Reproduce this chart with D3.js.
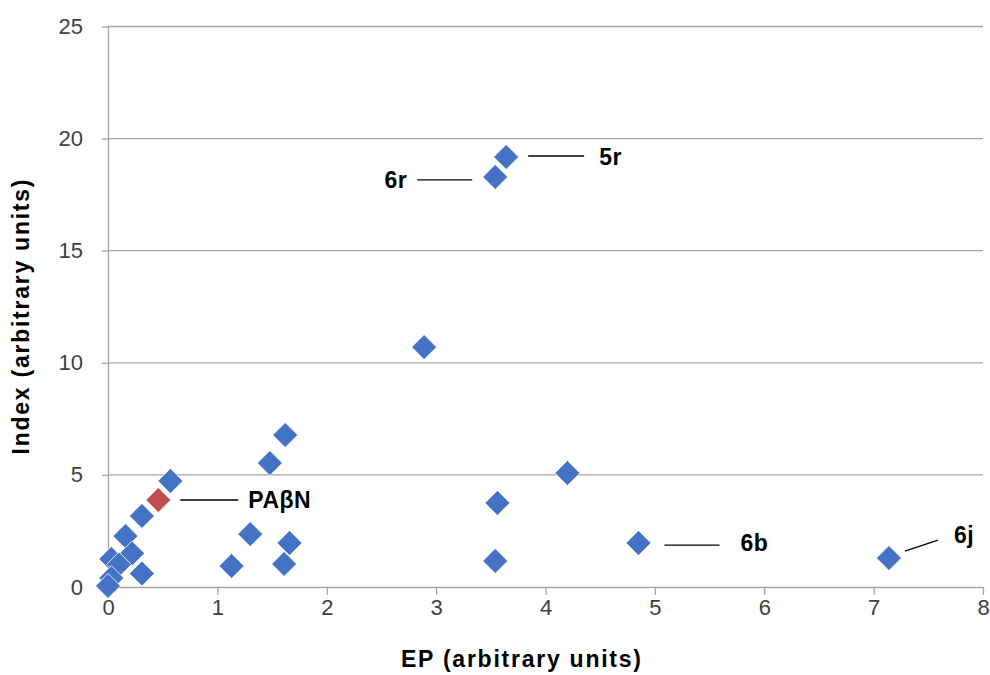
<!DOCTYPE html>
<html>
<head>
<meta charset="utf-8">
<script src="https://cdn.jsdelivr.net/npm/d3@7"></script>
<style>
  body { margin: 0; background: #fff; }
  svg text { font-family: "Liberation Sans", Arial, sans-serif; }
</style>
</head>
<body>
<div id="chart"></div>
<script>
// EP values (x) and Index values (y)
var epValues    = [3.64, 3.54, 2.89, 1.62, 1.48, 0.57, 0.31, 0.16, 1.30, 1.66, 1.61, 1.13, 4.20, 3.56, 3.54, 4.85, 7.14,
                   0.22, 0.03, 0.10, 0.31, 0.03, 0.00];
var indexValues = [19.18, 18.29, 10.70, 6.78, 5.53, 4.73, 3.17, 2.27, 2.36, 1.96, 1.03, 0.94, 5.08, 3.75, 1.16, 1.96, 1.29,
                   1.50, 1.25, 1.00, 0.60, 0.40, 0.05];
// reference compound
var refName = ['PAβN'];
var refEP = [0.46];
var refIndex = [3.88];

// labelled compounds (index into the arrays above)
var labelNames = ['5r', '6r', '6b', '6j'];
var labelPoints = [0, 1, 15, 16];

var xTicks = [0, 1, 2, 3, 4, 5, 6, 7, 8];
var yTicks = [0, 5, 10, 15, 20, 25];

var width = 990, height = 675;
var margin = {left: 108, right: 7, top: 26.5, bottom: 88};

var svg = d3.select('#chart').append('svg')
    .attr('width', width)
    .attr('height', height);

var x = d3.scaleLinear().domain([0, 8]).range([margin.left, width - margin.right]);
var y = d3.scaleLinear().domain([0, 25]).range([height - margin.bottom, margin.top]);

// horizontal gridlines
svg.append('g').selectAll('line')
    .data(yTicks.filter(function (d) { return d > 0; }))
    .join('line')
    .attr('x1', x(0)).attr('x2', x(8))
    .attr('y1', function (d) { return y(d); })
    .attr('y2', function (d) { return y(d); })
    .attr('stroke', '#a6a6a6')
    .attr('stroke-width', 1.3);

// axes
var xAxis = svg.append('g')
    .attr('transform', 'translate(0,' + y(0) + ')')
    .call(d3.axisBottom(x).tickValues(xTicks).tickSize(8).tickSizeOuter(0).tickPadding(4));
var yAxis = svg.append('g')
    .attr('transform', 'translate(' + x(0) + ',0)')
    .call(d3.axisLeft(y).tickValues(yTicks).tickSize(6).tickSizeOuter(0).tickPadding(19));

[xAxis, yAxis].forEach(function (ax) {
    ax.select('.domain').attr('stroke', '#a6a6a6').attr('stroke-width', 1.3);
    ax.selectAll('.tick line').attr('stroke', '#a6a6a6').attr('stroke-width', 1.3);
    ax.selectAll('.tick text')
        .attr('fill', '#404040')
        .style('font-size', '22px')
        .style('font-family', '"Liberation Sans", Arial, sans-serif');
});

// axis titles
svg.append('text')
    .attr('x', 521)
    .attr('y', 667)
    .attr('text-anchor', 'middle')
    .attr('textLength', 240)
    .attr('lengthAdjust', 'spacing')
    .style('font-size', '23px')
    .style('font-weight', 'bold')
    .text('EP (arbitrary units)');

svg.append('text')
    .attr('transform', 'translate(29,317) rotate(-90)')
    .attr('text-anchor', 'middle')
    .attr('textLength', 275)
    .attr('lengthAdjust', 'spacing')
    .style('font-size', '23px')
    .style('font-weight', 'bold')
    .text('Index (arbitrary units)');

// diamond marker
var half = 12.5;
function diamond(cx, cy) {
    return 'M' + cx + ',' + (cy - half) + 'L' + (cx + half) + ',' + cy +
           'L' + cx + ',' + (cy + half) + 'L' + (cx - half) + ',' + cy + 'Z';
}

var pts = epValues.map(function (d, i) { return {x: d, y: indexValues[i]}; });

svg.append('g').selectAll('path')
    .data(pts)
    .join('path')
    .attr('d', function (d) { return diamond(x(d.x), y(d.y)); })
    .attr('fill', '#4472c4')
    .attr('stroke', '#ffffff')
    .attr('stroke-width', 0.8);

svg.append('g').selectAll('path')
    .data(refEP.map(function (d, i) { return {x: d, y: refIndex[i]}; }))
    .join('path')
    .attr('d', function (d) { return diamond(x(d.x), y(d.y)); })
    .attr('fill', '#c0504d')
    .attr('stroke', '#ffffff')
    .attr('stroke-width', 0.8);

// label layout: leader line start/end and text offset relative to the point (pixels)
var labelLayout = {
    '5r':   {l: [22, -1, 78, -1], t: [93, 8], anchor: 'start'},
    '6r':   {l: [-23, 3, -78, 3], t: [-88, 11], anchor: 'end'},
    '6b':   {l: [26, 2, 81, 2], t: [102, 8], anchor: 'start'},
    '6j':   {l: [16, -7, 49, -18], t: [65, -15], anchor: 'start'},
    'PAβN': {l: [22, 0, 80, 0], t: [90, 8], anchor: 'start'}
};

var labels = labelNames.map(function (n, i) {
    return {name: n, x: epValues[labelPoints[i]], y: indexValues[labelPoints[i]]};
}).concat(refName.map(function (n, i) { return {name: n, x: refEP[i], y: refIndex[i]}; }));

var lg = svg.append('g').selectAll('g')
    .data(labels)
    .join('g')
    .attr('transform', function (d) { return 'translate(' + x(d.x) + ',' + y(d.y) + ')'; });

lg.append('line')
    .attr('x1', function (d) { return labelLayout[d.name].l[0]; })
    .attr('y1', function (d) { return labelLayout[d.name].l[1]; })
    .attr('x2', function (d) { return labelLayout[d.name].l[2]; })
    .attr('y2', function (d) { return labelLayout[d.name].l[3]; })
    .attr('stroke', '#000')
    .attr('stroke-width', 1.3);

lg.append('text')
    .attr('x', function (d) { return labelLayout[d.name].t[0]; })
    .attr('y', function (d) { return labelLayout[d.name].t[1]; })
    .attr('text-anchor', function (d) { return labelLayout[d.name].anchor; })
    .style('font-size', '23px')
    .style('font-weight', 'bold')
    .style('letter-spacing', '0.5px')
    .text(function (d) { return d.name; });
</script>
</body>
</html>
